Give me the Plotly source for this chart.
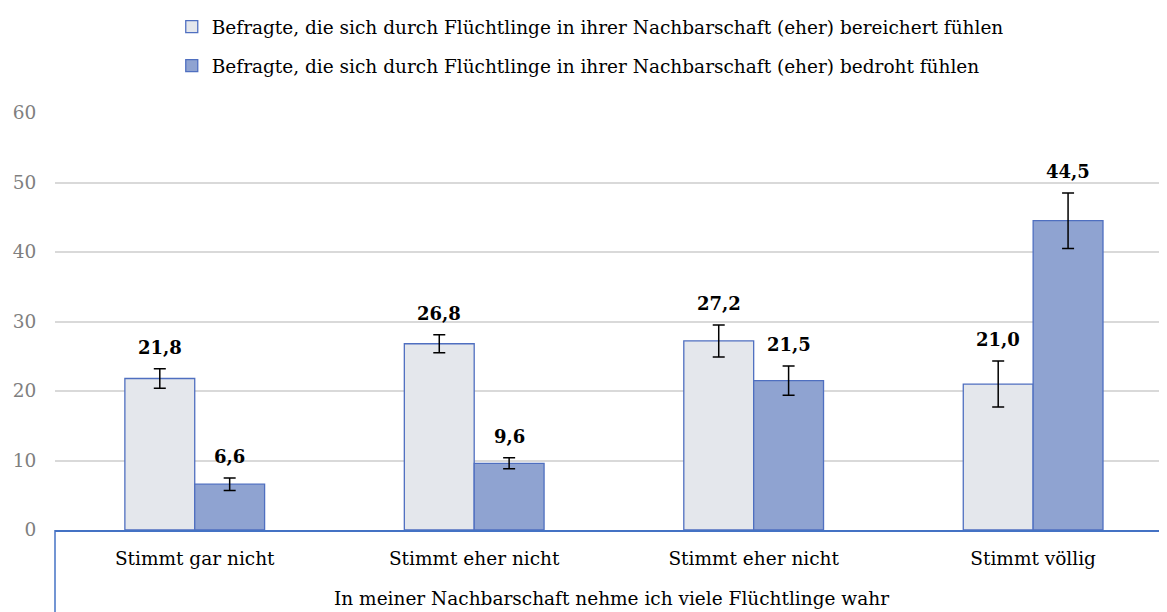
import plotly.graph_objects as go

categories = ["Stimmt gar nicht", "Stimmt eher nicht", "Stimmt eher nicht", "Stimmt völlig"]
group_title = "In meiner Nachbarschaft nehme ich viele Flüchtlinge wahr"
series_names = [
    "Befragte, die sich durch Flüchtlinge in ihrer Nachbarschaft (eher) bereichert fühlen",
    "Befragte, die sich durch Flüchtlinge in ihrer Nachbarschaft (eher) bedroht fühlen",
]
bereichert = [21.8, 26.8, 27.2, 21.0]
bereichert_err = [1.4, 1.3, 2.3, 3.3]
bedroht = [6.6, 9.6, 21.5, 44.5]
bedroht_err = [0.9, 0.8, 2.1, 4.0]
y_ticks = [0, 10, 20, 30, 40, 50, 60]

FONT = "DejaVu Serif"
TXT = 18.5
fills = ["#E4E7EC", "#8FA3D1"]
border = "#4F6FC0"

xpos = list(range(len(categories)))
fig = go.Figure()
for name, vals, errs, col in [(series_names[0], bereichert, bereichert_err, fills[0]),
                              (series_names[1], bedroht, bedroht_err, fills[1])]:
    fig.add_trace(go.Bar(
        x=xpos, y=vals, name=name, legendgroup=name,
        marker=dict(color=col, line=dict(color=border, width=1.3)),
        error_y=dict(type="data", array=errs, color="black", thickness=1.5, width=6),
    ))

annotations = []
offsets = [-0.125, 0.125]
for off, vals, errs in [(offsets[0], bereichert, bereichert_err), (offsets[1], bedroht, bedroht_err)]:
    for i, (v, e) in enumerate(zip(vals, errs)):
        annotations.append(dict(
            x=i + off, y=v + e, xref="x", yref="y", text=f"<b>{v:.1f}</b>".replace(".", ","),
            showarrow=False, yanchor="bottom", yshift=9,
            font=dict(family=FONT, size=18, color="black")))

annotations.append(dict(x=0.5, xref="paper", y=-0.165, yref="paper", text=group_title,
                        showarrow=False, yanchor="middle",
                        font=dict(family=FONT, size=TXT, color="black")))

fig.update_layout(
    width=1159, height=604,
    margin=dict(l=47, r=0, t=105, b=82, autoexpand=False),
    paper_bgcolor="white", plot_bgcolor="white",
    barmode="group", bargap=0.5, bargroupgap=0,
    font=dict(family=FONT, size=TXT, color="black"),
    legend=dict(orientation="v", x=0.105, xanchor="left", y=1.014, yref="container",
                yanchor="top", font=dict(family=FONT, size=TXT, color="black"),
                tracegroupgap=12, bgcolor="rgba(0,0,0,0)", itemwidth=30),
    xaxis=dict(tickmode="array", tickvals=xpos, ticktext=categories, range=[-0.5, 3.479],
               showgrid=False, showline=True, linecolor="#4472C4", linewidth=1.5,
               ticks="outside", ticklen=11, tickcolor="rgba(0,0,0,0)", automargin=False,
               tickfont=dict(family=FONT, size=TXT, color="black"), zeroline=False),
    yaxis=dict(range=[0, 60], tickvals=y_ticks, showgrid=True, gridcolor="#D9D9D9",
               gridwidth=1.5, zeroline=False, showline=False, automargin=False,
               ticks="outside", ticklen=14, tickcolor="rgba(0,0,0,0)",
               tickfont=dict(family=FONT, size=18.5, color="#7F7F7F")),
    annotations=annotations,
    shapes=[dict(type="line", xref="paper", yref="paper", x0=0, x1=0, y0=0, y1=-0.3,
                 line=dict(color="#4472C4", width=1.5))],
)

fig.write_html("out.html")
